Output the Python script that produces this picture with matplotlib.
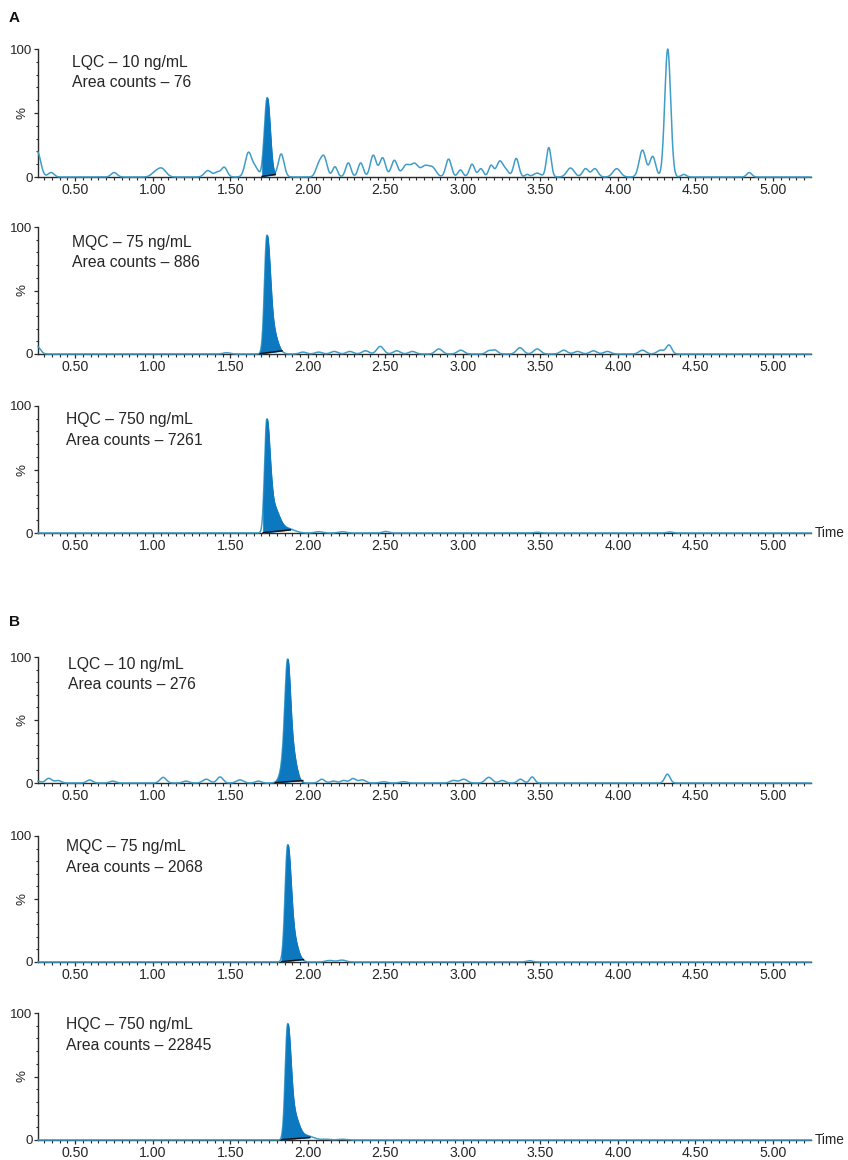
import numpy as np
import matplotlib
matplotlib.use("Agg")
import matplotlib.pyplot as plt
from matplotlib.ticker import MultipleLocator, FixedLocator

plt.rcParams['font.family'] = ['Liberation Sans', 'DejaVu Sans']

# ---------------- data ----------------
SAMPLE_LABELS = ["LQC – 10 ng/mL", "MQC – 75 ng/mL", "HQC – 750 ng/mL",
                 "LQC – 10 ng/mL", "MQC – 75 ng/mL", "HQC – 750 ng/mL"]
AREA_COUNTS = ["76", "886", "7261", "276", "2068", "22845"]
PANEL_LETTERS = ["A", "B"]
X_TICK_LABELS = ["0.50", "1.00", "1.50", "2.00", "2.50", "3.00", "3.50", "4.00", "4.50", "5.00"]

# noise / interference peaks: retention time (min), height (%), width (min)
A1_NOISE_T = [0.255, 0.344, 0.751, 1.013, 1.058, 1.355, 1.415, 1.461, 1.617, 1.662, 1.828,
              2.070, 2.105, 2.175, 2.261, 2.341, 2.422, 2.482, 2.558, 2.633, 2.689, 2.754, 2.804,
              2.908, 2.984, 3.059, 3.116, 3.182, 3.237, 3.277, 3.344, 3.414, 3.479, 3.554,
              3.694, 3.791, 3.851, 3.992, 4.158, 4.224, 4.321, 4.425, 4.847]
A1_NOISE_H = [20, 3.5, 3.5, 3, 6.5, 5, 3.5, 7.5, 19, 7, 18,
              9, 15, 8, 11, 11, 17, 15, 13, 9, 10, 8, 7,
              14, 5.5, 10, 6.5, 9, 12, 5, 14.5, 2, 3, 23,
              7, 6.5, 6.5, 6.5, 21, 16, 100, 2, 3.5]
A1_NOISE_W = [0.022, 0.019, 0.019, 0.024, 0.027, 0.022, 0.019, 0.019, 0.021, 0.019, 0.019,
              0.019, 0.019, 0.016, 0.017, 0.017, 0.019, 0.019, 0.02, 0.024, 0.024, 0.025, 0.024,
              0.018, 0.016, 0.017, 0.016, 0.016, 0.02, 0.019, 0.017, 0.013, 0.024, 0.015,
              0.024, 0.019, 0.02, 0.024, 0.021, 0.019, 0.019, 0.016, 0.016]

A2_NOISE_T = [0.255, 1.476, 1.969, 2.070, 2.170, 2.271, 2.372, 2.467, 2.573, 2.674, 2.845, 2.986,
              3.167, 3.207, 3.368, 3.479, 3.650, 3.740, 3.841, 3.932, 4.158, 4.274, 4.329]
A2_NOISE_H = [6, 1, 1.5, 1.5, 2, 2, 2.5, 6, 2.5, 2, 4, 3,
              2.5, 3, 5, 4, 3, 2, 2.5, 2, 3, 3, 7]
A2_NOISE_W = [0.02, 0.022, 0.022, 0.022, 0.022, 0.022, 0.022, 0.022, 0.022, 0.022, 0.022, 0.022,
              0.018, 0.018, 0.022, 0.022, 0.022, 0.022, 0.022, 0.022, 0.022, 0.022, 0.018]

A3_NOISE_T = [2.070, 2.221, 2.503, 3.479, 4.334]
A3_NOISE_H = [1, 1, 1.2, 0.6, 0.8]
A3_NOISE_W = [0.025, 0.025, 0.02, 0.02, 0.02]

B1_NOISE_T = [0.258, 0.329, 0.389, 0.593, 0.741, 1.067, 1.214, 1.345, 1.434, 1.562, 1.681,
              2.090, 2.165, 2.231, 2.291, 2.351, 2.488, 2.617, 2.940, 3.006, 3.167, 3.254,
              3.371, 3.447, 4.319]
B1_NOISE_H = [1.5, 3.7, 2, 2.4, 1.5, 4.5, 1.5, 3, 4.8, 2.5, 1.5,
              3, 1.5, 2, 3.5, 2.5, 1, 1, 2, 3, 4.5, 2,
              3, 4.8, 7]
B1_NOISE_W = [0.018, 0.02, 0.02, 0.019, 0.019, 0.02, 0.02, 0.022, 0.019, 0.022, 0.019,
              0.019, 0.019, 0.019, 0.019, 0.022, 0.022, 0.022, 0.022, 0.022, 0.022, 0.019,
              0.018, 0.016, 0.017]

B2_NOISE_T = [2.14, 2.22, 3.429]
B2_NOISE_H = [1.2, 1.5, 1]
B2_NOISE_W = [0.025, 0.025, 0.02]

B3_NOISE_T = [2.12, 2.22]
B3_NOISE_H = [0.6, 0.6]
B3_NOISE_W = [0.025, 0.025]

# analyte peak components: time, height, left width, right width
A1_PEAK_T = [1.738]
A1_PEAK_H = [62]
A1_PEAK_WL = [0.018]
A1_PEAK_WR = [0.019]

A2_PEAK_T = [1.735, 1.768]
A2_PEAK_H = [88, 20]
A2_PEAK_WL = [0.015, 0.02]
A2_PEAK_WR = [0.02, 0.032]

A3_PEAK_T = [1.735, 1.773, 1.878]
A3_PEAK_H = [86, 22, 3]
A3_PEAK_WL = [0.014, 0.02, 0.04]
A3_PEAK_WR = [0.019, 0.04, 0.04]

B1_PEAK_T = [1.869, 1.872, 1.915]
B1_PEAK_H = [60, 38, 8]
B1_PEAK_WL = [0.016, 0.03, 0.02]
B1_PEAK_WR = [0.017, 0.03, 0.022]

B2_PEAK_T = [1.869, 1.903]
B2_PEAK_H = [88, 20]
B2_PEAK_WL = [0.016, 0.02]
B2_PEAK_WR = [0.02, 0.03]

B3_PEAK_T = [1.869, 1.903, 2.0]
B3_PEAK_H = [86, 22, 3]
B3_PEAK_WL = [0.015, 0.02, 0.04]
B3_PEAK_WR = [0.019, 0.035, 0.04]

# integration window (min) and baseline levels (%) at its ends
INT_START = [1.705, 1.692, 1.712, 1.79, 1.83, 1.83]
INT_END = [1.79, 1.833, 1.888, 1.967, 1.972, 2.012]
BASE_START = [0.5, 0.3, 0.3, 0.3, 0.3, 0.3]
BASE_END = [2.0, 2.5, 2.5, 2.0, 2.0, 2.0]

NOISE = [(A1_NOISE_T, A1_NOISE_H, A1_NOISE_W), (A2_NOISE_T, A2_NOISE_H, A2_NOISE_W),
         (A3_NOISE_T, A3_NOISE_H, A3_NOISE_W), (B1_NOISE_T, B1_NOISE_H, B1_NOISE_W),
         (B2_NOISE_T, B2_NOISE_H, B2_NOISE_W), (B3_NOISE_T, B3_NOISE_H, B3_NOISE_W)]
PEAKS = [(A1_PEAK_T, A1_PEAK_H, A1_PEAK_WL, A1_PEAK_WR), (A2_PEAK_T, A2_PEAK_H, A2_PEAK_WL, A2_PEAK_WR),
         (A3_PEAK_T, A3_PEAK_H, A3_PEAK_WL, A3_PEAK_WR), (B1_PEAK_T, B1_PEAK_H, B1_PEAK_WL, B1_PEAK_WR),
         (B2_PEAK_T, B2_PEAK_H, B2_PEAK_WL, B2_PEAK_WR), (B3_PEAK_T, B3_PEAK_H, B3_PEAK_WL, B3_PEAK_WR)]

# ---------------- layout ----------------
W, H = 848, 1160
T_MIN, T_MAX = 0.26, 5.245
X_LEFT, X_RIGHT = 38, 811
PANEL_TOP = [49, 227, 406, 657, 836, 1013]
PANEL_BOT = [177, 354, 533, 783, 962, 1140]
TEXT_X = [71.5, 71.5, 66.5, 68, 66.5, 66.5]
TEXT_Y = [66.7, 246.7, 424.5, 668.5, 851.5, 1029.5]

LINE_COLOR = "#3f9dc8"
FILL_COLOR = "#0b78bf"
AXIS_COLOR = "#2b2b2b"
TEXT_COLOR = "#262626"

fig = plt.figure(figsize=(W / 100, H / 100), dpi=100)


def fx(px):
    return px / W


def fy(py):
    return 1 - py / H


def peak_sum(t, centers, heights, wl, wr):
    y = np.zeros_like(t)
    for c, h, a, b in zip(centers, heights, wl, wr):
        s = np.where(t < c, a, b)
        y += h * np.exp(-0.5 * ((t - c) / s) ** 2)
    return y


t = np.linspace(T_MIN, T_MAX, 4000)

for i in range(6):
    top, bot = PANEL_TOP[i], PANEL_BOT[i]
    ax = fig.add_axes([fx(X_LEFT), fy(bot), fx(X_RIGHT - X_LEFT), (bot - top) / H])
    nt, nh, nw = NOISE[i]
    pt, ph, pwl, pwr = PEAKS[i]
    y = peak_sum(t, nt, nh, nw, nw) + peak_sum(t, pt, ph, pwl, pwr)

    ax.plot(t, y, color=LINE_COLOR, lw=1.1, clip_on=False, zorder=3)
    s, e = INT_START[i], INT_END[i]
    base = np.interp(t, [s, e], [BASE_START[i], BASE_END[i]])
    m = (t >= s) & (t <= e)
    ax.fill_between(t[m], base[m], y[m], color=FILL_COLOR, lw=0.6, edgecolor=FILL_COLOR,
                    zorder=4)
    ax.plot([s, e], [BASE_START[i], BASE_END[i]], color="#111111", lw=1.0, zorder=5,
            clip_on=False)

    ax.set_xlim(T_MIN, T_MAX)
    ax.set_ylim(0, 100)
    for sp in ["top", "right"]:
        ax.spines[sp].set_visible(False)
    for sp in ["left", "bottom"]:
        ax.spines[sp].set_color(AXIS_COLOR)
        ax.spines[sp].set_linewidth(1.0)
    ax.patch.set_alpha(0)

    ax.xaxis.set_major_locator(FixedLocator([0.5 * k for k in range(1, 11)]))
    ax.set_xticklabels(X_TICK_LABELS)
    ax.xaxis.set_minor_locator(MultipleLocator(0.05))
    ax.tick_params(axis="x", which="major", length=3.0, width=0.9, color=AXIS_COLOR,
                   labelsize=10.2, pad=1.2, labelcolor=TEXT_COLOR)
    ax.tick_params(axis="x", which="minor", length=1.8, width=0.8, color=AXIS_COLOR)

    ax.yaxis.set_major_locator(FixedLocator([0, 50, 100]))
    ax.set_yticklabels(["0", "", "100"])
    ax.yaxis.set_minor_locator(MultipleLocator(10))
    ax.tick_params(axis="y", which="major", length=3.0, width=0.9, color=AXIS_COLOR,
                   labelsize=9.6, pad=1.0, labelcolor=TEXT_COLOR)
    ax.tick_params(axis="y", which="minor", length=1.8, width=0.8, color=AXIS_COLOR)

    fig.text(fx(22), fy((top + bot) / 2), "%", rotation=90, ha="center", va="center",
             fontsize=9.6, color=TEXT_COLOR)
    fig.text(fx(TEXT_X[i]), fy(TEXT_Y[i]), SAMPLE_LABELS[i], fontsize=11.3,
             va="baseline", ha="left", color=TEXT_COLOR)
    fig.text(fx(TEXT_X[i]), fy(TEXT_Y[i] + 20.5), "Area counts – " + AREA_COUNTS[i],
             fontsize=11.3, va="baseline", ha="left", color=TEXT_COLOR)

    if i in (2, 5):
        fig.text(fx(815), fy(bot), "Time", fontsize=9.8, ha="left", va="center",
                 color=TEXT_COLOR)

fig.text(fx(14), fy(18), PANEL_LETTERS[0], fontsize=11, fontweight="bold",
         ha="center", va="center", color="#111111")
fig.text(fx(14), fy(622), PANEL_LETTERS[1], fontsize=11, fontweight="bold",
         ha="center", va="center", color="#111111")

fig.savefig("out.png", dpi=100)
